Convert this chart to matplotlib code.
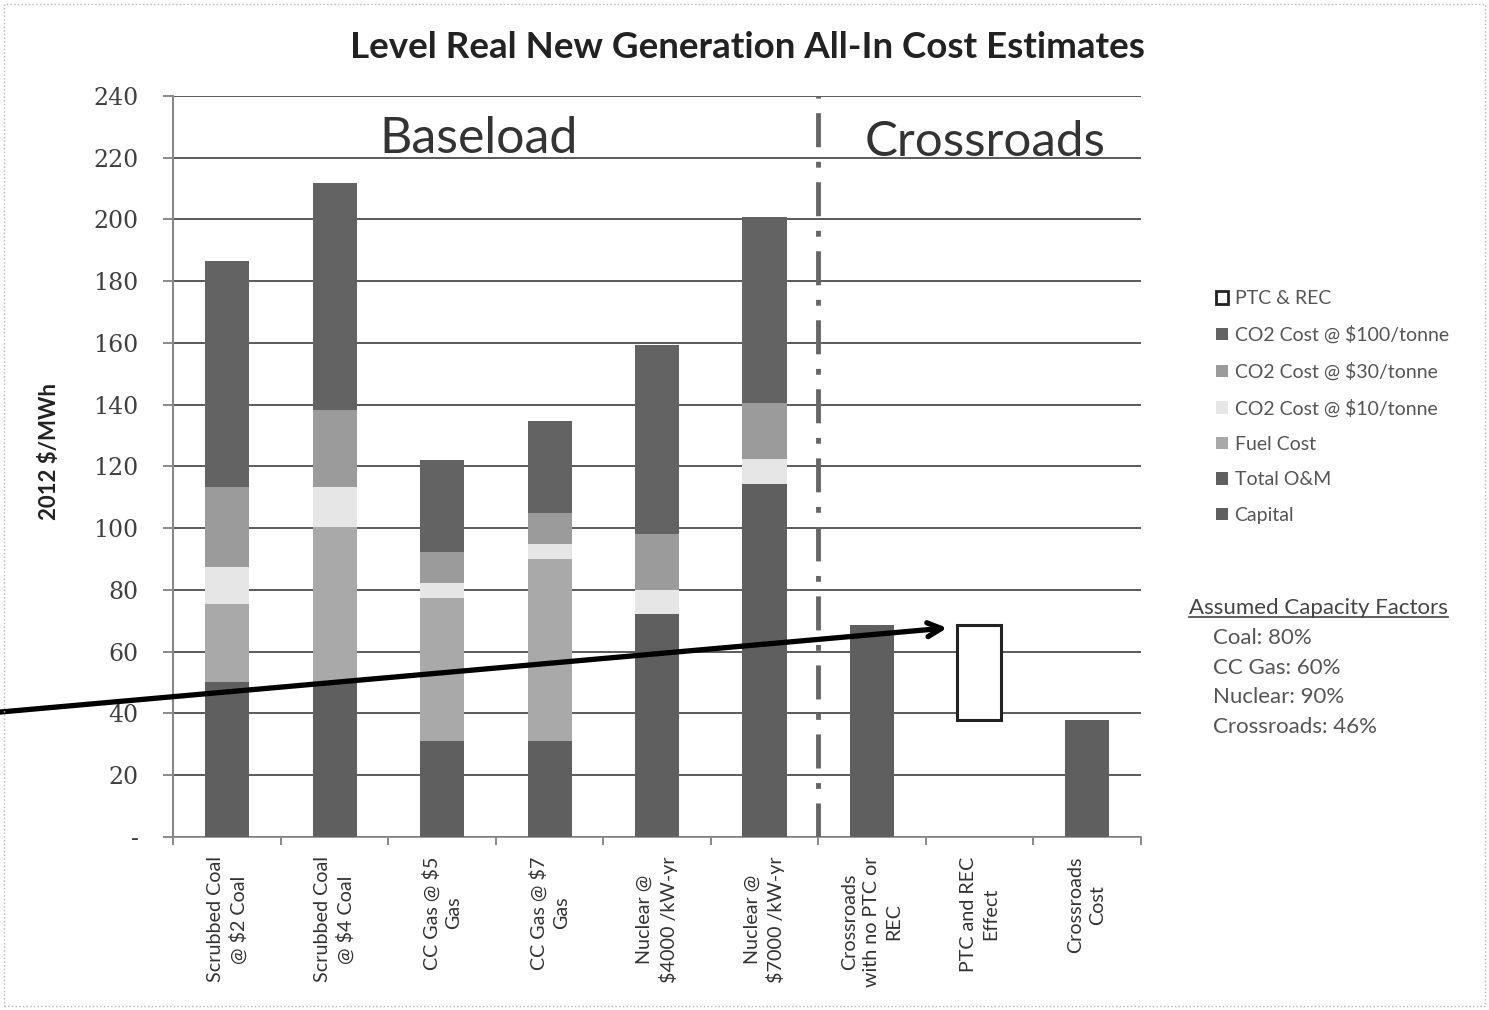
import numpy as np
import matplotlib
matplotlib.use("Agg")
import matplotlib.pyplot as plt
from matplotlib.patches import Patch, Rectangle
from matplotlib.lines import Line2D

plt.rcParams['font.family'] = ['Lato', 'DejaVu Sans']

# categories and cost components (2012 $/MWh)
categories = [
    "Scrubbed Coal\n@ $2 Coal", "Scrubbed Coal\n@ $4 Coal", "CC Gas @ $5\nGas",
    "CC Gas @ $7\nGas", "Nuclear @\n$4000 /kW-yr", "Nuclear @\n$7000 /kW-yr",
    "Crossroads\nwith no PTC or\nREC", "PTC and REC\nEffect", "Crossroads\nCost",
]
capital = [40.0, 40.0, 20.0, 20.0, 60.0, 100.0, 58.0, 0.0, 28.0]
total_om = [10.2, 10.0, 11.1, 11.1, 12.3, 14.3, 10.5, 0.0, 9.8]
fuel_cost = [25.3, 50.4, 46.3, 58.9, 0.0, 0.0, 0.0, 0.0, 0.0]
co2_10 = [11.9, 13.0, 4.9, 5.0, 7.8, 8.1, 0.0, 0.0, 0.0]
co2_30 = [26.0, 24.9, 10.0, 9.9, 18.1, 18.2, 0.0, 0.0, 0.0]
co2_100 = [73.2, 73.5, 29.7, 29.7, 61.1, 60.3, 0.0, 0.0, 0.0]
ptc_rec = [0.0, 0.0, 0.0, 0.0, 0.0, 0.0, 0.0, 30.7, 0.0]

yticks = list(range(0, 241, 20))
ytick_labels = ["-"] + [str(v) for v in yticks[1:]]
capacity_factors = ["Coal: 80%", "CC Gas: 60%", "Nuclear: 90%", "Crossroads: 46%"]

series = [
    ("Capital", capital, "#5f5f5f"),
    ("Total O&M", total_om, "#5f5f5f"),
    ("Fuel Cost", fuel_cost, "#a9a9a9"),
    ("CO2 Cost @ $10/tonne", co2_10, "#e6e6e6"),
    ("CO2 Cost @ $30/tonne", co2_30, "#9b9b9b"),
    ("CO2 Cost @ $100/tonne", co2_100, "#636363"),
]

fig = plt.figure(figsize=(14.89, 10.10), dpi=100)
fig.patch.set_facecolor("white")
ax = fig.add_axes([0.1165, 0.1713, 0.6495, 0.7337])

x = np.arange(len(categories))
width = 0.41
bottom = np.zeros(len(categories))
for name, vals, color in series:
    vals = np.array(vals)
    ax.bar(x, vals, width, bottom=bottom, color=color, edgecolor="none", zorder=3)
    bottom += vals

# PTC & REC effect drawn as an outlined floating box above the net cost
ptc_bottom = capital[8] + total_om[8]
ptc = np.array(ptc_rec)
ax.bar(x[ptc > 0], ptc[ptc > 0], width, bottom=ptc_bottom,
       facecolor="white", edgecolor="#222222", linewidth=2.2, zorder=3)

ax.set_xlim(-0.5, len(categories) - 0.5)
ax.set_ylim(0, 240)
ax.set_yticks(yticks)
ax.set_yticklabels(ytick_labels, fontfamily="DejaVu Serif", fontsize=17, color="#404040")
ax.tick_params(axis="y", direction="out", length=7, width=1.2, color="#777777", pad=18)
ax.yaxis.grid(True, color="#5a5a5a", linewidth=1.4, zorder=1)
ax.set_axisbelow(True)

ax.set_xticks(x)
ax.set_xticklabels(categories, rotation=90, fontsize=14.2, color="#333333",
                   linespacing=1.35, ha="center", va="top")
ax.set_xticks(np.arange(-0.5, len(categories)), minor=True)
ax.tick_params(axis="x", which="major", length=0, pad=14)
ax.tick_params(axis="x", which="minor", direction="out", length=6, width=1.2, color="#777777")

for side in ["top", "right"]:
    ax.spines[side].set_visible(False)
ax.spines["left"].set_color("#888888")
ax.spines["left"].set_linewidth(1.5)
ax.spines["bottom"].set_color("#888888")
ax.spines["bottom"].set_linewidth(1.2)

ax.set_ylabel("2012 $/MWh", fontsize=16, fontweight="bold", color="#222222")
ax.yaxis.set_label_coords(-0.117, 0.52)

# divider between baseload options and Crossroads
ax.axvline(5.5, color="#666666", linewidth=3.5, linestyle=(0, (7, 3, 1.2, 3)), zorder=4)
ax.text(2.34, 226, "Baseload", fontsize=36, color="#333333", ha="center", va="center",
        zorder=5)
ax.text(7.05, 225, "Crossroads", fontsize=35.5, color="#333333", ha="center", va="center",
        zorder=5)

fig.text(0.502, 0.953, "Level Real New Generation All-In Cost Estimates",
         fontsize=26.5, fontweight="bold", color="#222222", ha="center", va="center")

# legend, top of stack first
handles = [Patch(facecolor="white", edgecolor="#222222", linewidth=2, label="PTC & REC")]
for name, vals, color in series[::-1]:
    handles.append(Patch(facecolor=color, edgecolor="none", label=name))
leg = fig.legend(handles=handles, loc="upper left", bbox_to_anchor=(0.805, 0.73),
                 frameon=False, fontsize=14, handlelength=0.6, handleheight=0.6,
                 handletextpad=0.35, labelspacing=0.95)
for t in leg.get_texts():
    t.set_color("#555555")

hdr = fig.text(0.7985, 0.398, "Assumed Capacity Factors", fontsize=16, color="#444444",
               ha="left", va="center")
for i, line in enumerate(capacity_factors):
    fig.text(0.8145, 0.368 - i * 0.0292, line, fontsize=16, color="#555555",
             ha="left", va="center")

fig.canvas.draw()
bb = hdr.get_window_extent().transformed(fig.transFigure.inverted())
fig.add_artist(Line2D([bb.x0, bb.x1], [bb.y0 + 0.001, bb.y0 + 0.001],
                      transform=fig.transFigure, color="#444444", linewidth=1.2))

# call-out arrow to the PTC & REC box
ax.annotate("", xy=(6.70, 67.7), xycoords="data",
            xytext=(0.0, 0.295), textcoords="figure fraction",
            arrowprops=dict(arrowstyle="->,head_length=1.0,head_width=0.5",
                            color="black", linewidth=3.8, shrinkA=0, shrinkB=0),
            zorder=6, annotation_clip=False)

fig.add_artist(Rectangle((0.003, 0.004), 0.994, 0.992, transform=fig.transFigure,
                         fill=False, edgecolor="#b5b5b5", linewidth=1.0, linestyle=":"))

fig.savefig("out.png", dpi=100, facecolor="white")
